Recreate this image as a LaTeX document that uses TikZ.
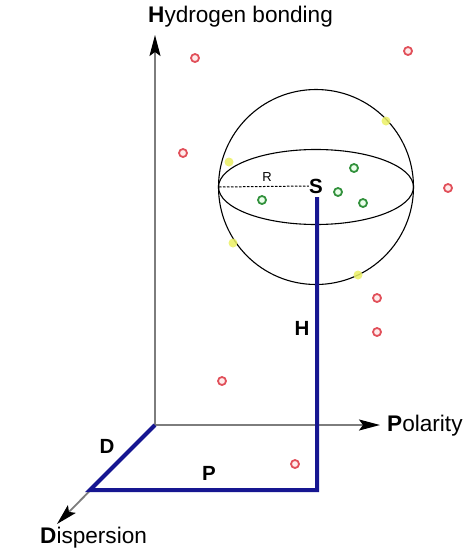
\documentclass[tikz,border=0pt]{standalone}
\usepackage{fontspec}
\setmainfont{Liberation Sans}
\usetikzlibrary{arrows.meta}
\definecolor{axisgray}{RGB}{125,125,125}
\definecolor{hblue}{RGB}{22,22,145}
\definecolor{dotred}{RGB}{225,80,90}
\definecolor{dotgreen}{RGB}{50,145,60}
\definecolor{spotyellow}{RGB}{235,240,100}
\begin{document}
\begin{tikzpicture}[x=1pt,y=-1pt,
  axis/.style={draw=axisgray,line width=1.8pt,-{Stealth[length=21pt,width=11pt,inset=4pt,fill=black,color=black]}},
  hpath/.style={draw=hblue,line width=4pt,line join=miter},
  axlabel/.style={font=\fontsize{22.6}{24}\selectfont,inner sep=0pt,anchor=west},
  blabel/.style={font=\fontsize{20.5}{22}\selectfont\bfseries,inner sep=0pt},
  reddot/.style={circle,draw=dotred,line width=1.8pt,fill=red!8,minimum size=8pt,inner sep=0pt},
  greendot/.style={circle,draw=dotgreen,line width=1.8pt,fill=green!8,minimum size=8pt,inner sep=0pt},
  yspot/.style={circle,fill=spotyellow,minimum size=9pt,inner sep=0pt,opacity=0.85},
  ]
\useasboundingbox (0,0) rectangle (476,552);
\coordinate (O) at (155,425);
\coordinate (Htip) at (155,35);
\coordinate (Ptip) at (380,425);
\coordinate (Dtip) at (57,524);
\coordinate (Dc) at (90,490);
\coordinate (Pc) at (317,490);
\coordinate (C) at (316,187);
% axes
\draw[axis] (O) -- (Htip);
\draw[axis] (O) -- (Ptip);
\draw[axis] (O) -- (Dtip);
\node[axlabel] (hl) at (148,17) {\textbf{H}ydrogen bonding};
\node[axlabel] (pl) at (387,426) {\textbf{P}olarity};
\node[axlabel] (dl) at (40,538) {\textbf{D}ispersion};
% sphere
\draw[line width=1.1pt] (C) circle (97.5);
\draw[line width=1.1pt] (C) ellipse (97.5 and 37.5);
\node[yspot] (y1) at (386,121) {};
\node[yspot] (y2) at (229,162) {};
\node[yspot] (y3) at (233,243) {};
\node[yspot] (y4) at (358,275) {};
\coordinate (Rl) at (219,187);
\node[blabel] (S) at (316,186) {S};
\draw[line width=1pt,dash pattern=on 2.5pt off 1.5pt] (Rl) -- (S.west);
\node[font=\fontsize{13}{14}\selectfont,inner sep=0pt] (R) at (267,177) {R};
% blue path
\coordinate (Stop) at (317,197);
\draw[hpath] (O) -- (Dc) -- (Pc) -- (Stop);
\node[blabel] (Hl) at (302,328) {H};
\node[blabel] (Pl) at (209,473) {P};
\node[blabel] (Dl) at (107,446) {D};
% green dots
\node[greendot] (g1) at (262,200) {};
\node[greendot] (g2) at (354,168) {};
\node[greendot] (g3) at (338,192) {};
\node[greendot] (g4) at (363,203) {};
% red dots
\node[reddot] (r1) at (195,58) {};
\node[reddot] (r2) at (408,51) {};
\node[reddot] (r3) at (183,153) {};
\node[reddot] (r4) at (448,188) {};
\node[reddot] (r5) at (377,298) {};
\node[reddot] (r6) at (377,332) {};
\node[reddot] (r7) at (222,381) {};
\node[reddot] (r8) at (295,464) {};
\end{tikzpicture}
\end{document}
